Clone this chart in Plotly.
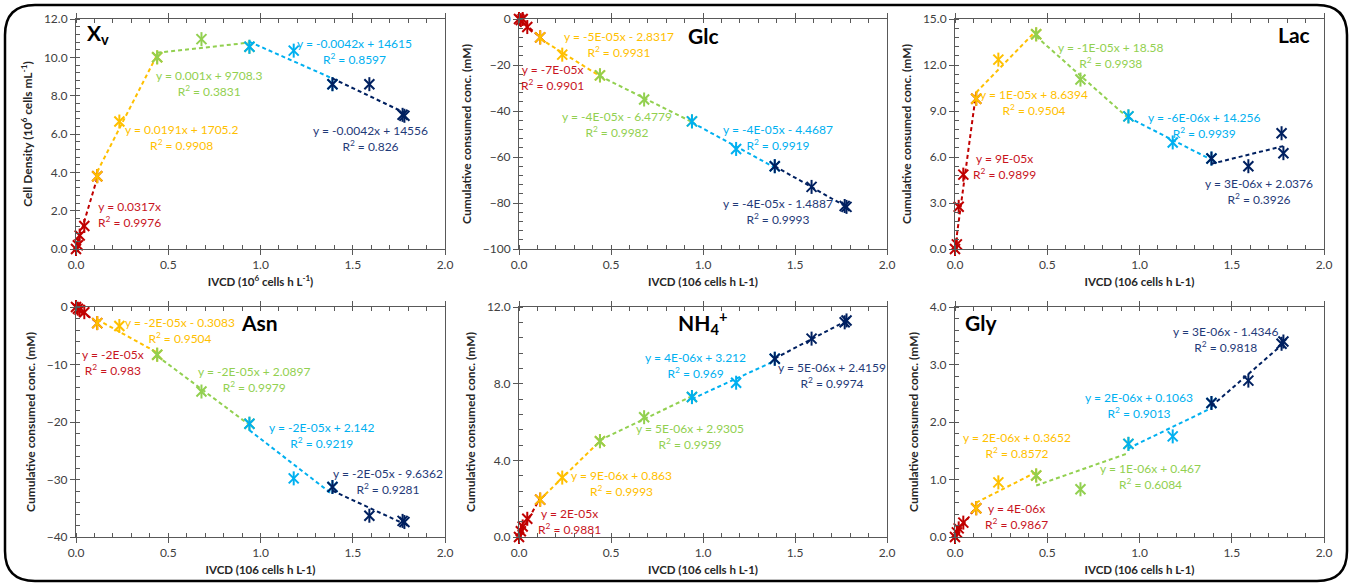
import numpy as np
import plotly.graph_objects as go

# ---------------- data ----------------
IVCD = [0.0, 0.01, 0.02, 0.045, 0.115, 0.235, 0.44, 0.68, 0.94, 1.18, 1.39, 1.59, 1.77, 1.78]

XV = [0.0, 0.2, 0.7, 1.2, 3.8, 6.65, 10.0, 10.95, 10.55, 10.35, 8.6, 8.6, 7.0, 6.95]
GLC = [0.0, -0.5, 0.0, -3.5, -8.0, -15.5, -24.5, -35.0, -44.5, -56.5, -64.0, -73.0, -81.3, -81.7]
LAC = [0.0, 0.3, 2.75, 4.85, 9.8, 12.35, 14.0, 11.05, 8.65, 6.95, 5.9, 5.4, 7.55, 6.25]
ASN = [0.0, -0.3, -0.5, -0.9, -2.8, -3.3, -8.3, -14.7, -20.3, -29.8, -31.3, -36.3, -37.2, -37.4]
NH4 = [0.0, 0.3, 0.55, 0.95, 1.95, 3.1, 5.0, 6.25, 7.3, 8.05, 9.3, 10.35, 11.2, 11.3]
GLY = [0.0, 0.08, 0.15, 0.25, 0.5, 0.95, 1.07, 0.83, 1.62, 1.75, 2.33, 2.72, 3.36, 3.4]

# phase segments (first/last index into IVCD), first phase fitted through origin
SEG_START = [0, 4, 6, 8, 10]
SEG_END = [4, 6, 8, 10, 13]

XV_EQ = ["y = 0.0317x", "y = 0.0191x + 1705.2", "y = 0.001x + 9708.3", "y = -0.0042x + 14615", "y = -0.0042x + 14556"]
XV_R2 = ["0.9976", "0.9908", "0.3831", "0.8597", "0.826"]
GLC_EQ = ["y = -7E-05x", "y = -5E-05x - 2.8317", "y = -4E-05x - 6.4779", "y = -4E-05x - 4.4687", "y = -4E-05x - 1.4887"]
GLC_R2 = ["0.9901", "0.9931", "0.9982", "0.9919", "0.9993"]
LAC_EQ = ["y = 9E-05x", "y = 1E-05x + 8.6394", "y = -1E-05x + 18.58", "y = -6E-06x + 14.256", "y = 3E-06x + 2.0376"]
LAC_R2 = ["0.9899", "0.9504", "0.9938", "0.9939", "0.3926"]
ASN_EQ = ["y = -2E-05x", "y = -2E-05x - 0.3083", "y = -2E-05x + 2.0897", "y = -2E-05x + 2.142", "y = -2E-05x - 9.6362"]
ASN_R2 = ["0.983", "0.9504", "0.9979", "0.9219", "0.9281"]
NH4_EQ = ["y = 2E-05x", "y = 9E-06x + 0.863", "y = 5E-06x + 2.9305", "y = 4E-06x + 3.212", "y = 5E-06x + 2.4159"]
NH4_R2 = ["0.9881", "0.9993", "0.9959", "0.969", "0.9974"]
GLY_EQ = ["y = 4E-06x", "y = 2E-06x + 0.3652", "y = 1E-06x + 0.467", "y = 2E-06x + 0.1063", "y = 3E-06x - 1.4346"]
GLY_R2 = ["0.9867", "0.8572", "0.6084", "0.9013", "0.9818"]

# ---------------- styles / layout ----------------
FONT = "Lato"
W, H = 1353, 586
SEG_COLORS = ["#C00000", "#FFC000", "#92D050", "#00B0F0", "#002060"]
TXT_COLORS = ["#C8141E", "#FFC000", "#92D050", "#00B0F0", "#1F3A78"]

panels = [
    dict(label="<b>X<sub>v</sub></b>", lab_pos=(0.05, 11.2, "left"), vals=XV, eq=XV_EQ, r2=XV_R2,
         yr=[0, 12], dtick=2, fmt=".1f",
         ytitle="Cell Density (10<sup>6</sup> cells mL<sup>-1</sup>)",
         xtitle="IVCD (10<sup>6</sup> cells h L<sup>-1</sup>)",
         px=(76, 445), py=(19, 249),
         ann=[(0.29, 1.8), (0.57, 5.84), (0.72, 8.63), (1.51, 10.29), (1.594, 5.76)]),
    dict(label="<b>Glc</b>", lab_pos=(1.0, -7, "center"), vals=GLC, eq=GLC_EQ, r2=GLC_R2,
         yr=[-100, 0], dtick=20, fmt="d",
         ytitle="Cumulative consumed conc. (mM)", xtitle="IVCD (106 cells h L-1)",
         px=(519, 887), py=(19, 249),
         ann=[(0.183, -25.6), (0.543, -11.2), (0.53, -46.0), (1.405, -51.4), (1.405, -83.9)]),
    dict(label="<b>Lac</b>", lab_pos=(1.84, 13.96, "center"), vals=LAC, eq=LAC_EQ, r2=LAC_R2,
         yr=[0, 15], dtick=3, fmt=".1f",
         ytitle="Cumulative consumed conc. (mM)", xtitle="IVCD (106 cells h L-1)",
         px=(955, 1324), py=(19, 249),
         ann=[(0.266, 5.36), (0.427, 9.56), (0.847, 12.64), (1.348, 8.04), (1.649, 3.77)]),
    dict(label="<b>Asn</b>", lab_pos=(0.993, -2.67, "center"), vals=ASN, eq=ASN_EQ, r2=ASN_R2,
         yr=[-40, 0], dtick=10, fmt="d",
         ytitle="Cumulative consumed conc. (mM)", xtitle="IVCD (106 cells h L-1)",
         px=(76, 445), py=(307, 537),
         ann=[(0.2, -9.65), (0.562, -4.06), (0.965, -12.55), (1.335, -22.4), (1.69, -30.35)]),
    dict(label="<b>NH<sub>4</sub><sup>+</sup></b>", lab_pos=(0.995, 11.2, "center"), vals=NH4, eq=NH4_EQ, r2=NH4_R2,
         yr=[0, 12], dtick=4, fmt=".1f",
         ytitle="Cumulative consumed conc. (mM)", xtitle="IVCD (106 cells h L-1)",
         px=(519, 887), py=(307, 537),
         ann=[(0.272, 0.83), (0.555, 2.8), (0.93, 5.26), (0.961, 8.95), (1.7, 8.44)]),
    dict(label="<b>Gly</b>", lab_pos=(0.143, 3.73, "center"), vals=GLY, eq=GLY_EQ, r2=GLY_R2,
         yr=[0, 4], dtick=1, fmt=".1f",
         ytitle="Cumulative consumed conc. (mM)", xtitle="IVCD (106 cells h L-1)",
         px=(955, 1324), py=(307, 537),
         ann=[(0.331, 0.36), (0.337, 1.59), (1.061, 1.05), (0.998, 2.29), (1.47, 3.43)]),
]

fig = go.Figure()
annotations = []
x_all = np.array(IVCD)

for p, pan in enumerate(panels):
    sfx = "" if p == 0 else str(p + 1)
    xref, yref = "x" + sfx, "y" + sfx
    y_all = np.array(pan["vals"])
    for s in range(5):
        a, b = SEG_START[s], SEG_END[s]
        xs, ys = x_all[a:b + 1], y_all[a:b + 1]
        col = SEG_COLORS[s]
        # markers (Excel-like star: x + vertical bar)
        for sym, sz in (("x-thin-open", 10), ("line-ns-open", 10)):
            fig.add_trace(go.Scatter(
                x=xs, y=ys, mode="markers", xaxis=xref, yaxis=yref, showlegend=False,
                cliponaxis=False,
                marker=dict(symbol=sym, size=sz, color=col,
                            line=dict(color=col, width=2)),
                hoverinfo="skip"))
        # linear trendline
        if s == 0:
            k = float(np.sum(xs * ys) / np.sum(xs * xs))
            c0 = 0.0
        else:
            k, c0 = np.polyfit(xs, ys, 1)
        lx = np.array([xs.min(), xs.max()])
        fig.add_trace(go.Scatter(
            x=lx, y=k * lx + c0, mode="lines", xaxis=xref, yaxis=yref, showlegend=False,
            cliponaxis=False,
            line=dict(color=col, width=2, dash="4px,3px"), hoverinfo="skip"))
        ax, ay = pan["ann"][s]
        annotations.append(dict(
            x=ax, y=ay, xref=xref, yref=yref, showarrow=False, xanchor="center", yanchor="middle",
            text=f"{pan['eq'][s]}<br>R<sup>2</sup> = {pan['r2'][s]}", align="center",
            font=dict(family=FONT, size=12, color=TXT_COLORS[s])))
    lx_, ly_, la_ = pan["lab_pos"]
    annotations.append(dict(x=lx_, y=ly_, xref=xref, yref=yref, showarrow=False,
                            xanchor=la_, yanchor="middle", text=pan["label"],
                            font=dict(family=FONT, size=21, color="#000000")))

    x0, x1 = pan["px"]
    ytop, ybot = pan["py"]
    axis_common = dict(showgrid=False, zeroline=False, showline=True, linecolor="#595959",
                       linewidth=1, tickcolor="#595959", ticklen=5, automargin=False,
                       tickfont=dict(family=FONT, size=12, color="#404040"))
    fig.update_layout(**{
        "xaxis" + sfx: dict(axis_common, domain=[x0 / W, x1 / W], range=[0, 2], dtick=0.5,
                            tickformat=".1f", ticks="outside", mirror="allticks",
                            anchor=yref,
                            minor=dict(dtick=0.1, ticks="inside", ticklen=4, tickcolor="#595959"),
                            title=dict(text=pan["xtitle"], standoff=6,
                                       font=dict(family=FONT, size=11.5, color="#262626", weight="bold"))),
        "yaxis" + sfx: dict(axis_common, domain=[1 - ybot / H, 1 - ytop / H], range=pan["yr"],
                            dtick=pan["dtick"], tickformat=pan["fmt"], ticks="outside", mirror=True,
                            anchor=xref,
                            minor=dict(dtick=pan["dtick"] / 5, ticks="inside", ticklen=4,
                                       tickcolor="#595959"),
                            title=dict(text=pan["ytitle"], standoff=8,
                                       font=dict(family=FONT, size=12, color="#262626", weight="bold"))),
    })

# rounded outer frame (pixel -> paper)
def P(px, py):
    return f"{px / W:.5f},{1 - py / H:.5f}"

bx0, by0, bx1, by1, r = 5, 5, 1347, 581, 30
path = (f"M {P(bx0 + r, by0)} L {P(bx1 - r, by0)} Q {P(bx1, by0)} {P(bx1, by0 + r)} "
        f"L {P(bx1, by1 - r)} Q {P(bx1, by1)} {P(bx1 - r, by1)} "
        f"L {P(bx0 + r, by1)} Q {P(bx0, by1)} {P(bx0, by1 - r)} "
        f"L {P(bx0, by0 + r)} Q {P(bx0, by0)} {P(bx0 + r, by0)} Z")

fig.update_layout(
    width=W, height=H, margin=dict(l=0, r=0, t=0, b=0, pad=0, autoexpand=False),
    paper_bgcolor="white", plot_bgcolor="white",
    font=dict(family=FONT, color="#404040"),
    annotations=annotations,
    shapes=[dict(type="path", path=path, xref="paper", yref="paper",
                 line=dict(color="black", width=2.5), layer="above")],
)

fig.write_html("out.html")
